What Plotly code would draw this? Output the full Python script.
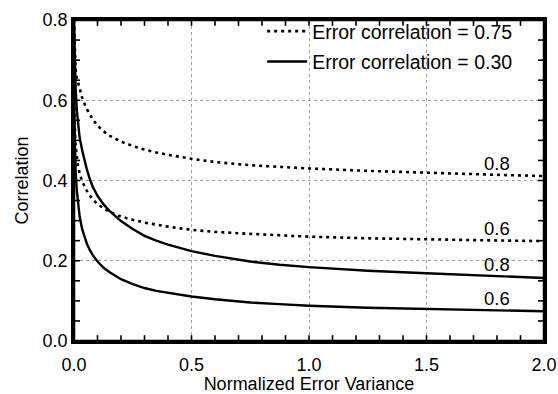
import numpy as np
import plotly.graph_objects as go

# Normalized error variance (x) and resulting correlation for each case
x_hi_075 = [0, 0.003, 0.006, 0.01, 0.02, 0.035, 0.05, 0.065, 0.08, 0.1, 0.125, 0.15, 0.175, 0.2, 0.25, 0.3, 0.35, 0.4,
            0.5, 0.6, 0.75, 0.875, 1.0, 1.25, 1.5, 1.75, 2.0]
y_hi_075 = [0.80, 0.72, 0.685, 0.66, 0.636, 0.606, 0.583, 0.566, 0.552, 0.537, 0.523, 0.512, 0.504, 0.497, 0.486, 0.477,
            0.470, 0.464, 0.454, 0.446, 0.438, 0.434, 0.430, 0.424, 0.419, 0.415, 0.411]

x_lo_075 = [0, 0.003, 0.006, 0.01, 0.017, 0.025, 0.035, 0.05, 0.065, 0.08, 0.1, 0.125, 0.15, 0.175, 0.2, 0.25, 0.3, 0.35,
            0.4, 0.5, 0.6, 0.75, 0.875, 1.0, 1.25, 1.5, 1.75, 2.0]
y_lo_075 = [0.60, 0.53, 0.495, 0.470, 0.437, 0.415, 0.398, 0.379, 0.364, 0.353, 0.341, 0.331, 0.322, 0.316, 0.310, 0.302,
            0.295, 0.290, 0.285, 0.277, 0.272, 0.267, 0.263, 0.260, 0.256, 0.253, 0.251, 0.249]

x_hi_030 = [0, 0.003, 0.007, 0.012, 0.018, 0.024, 0.035, 0.045, 0.055, 0.067, 0.08, 0.1, 0.125, 0.15, 0.175, 0.2, 0.25,
            0.3, 0.35, 0.4, 0.5, 0.6, 0.75, 0.875, 1.0, 1.25, 1.5, 1.75, 2.0]
y_hi_030 = [0.80, 0.70, 0.63, 0.575, 0.535, 0.507, 0.475, 0.450, 0.427, 0.404, 0.384, 0.362, 0.341, 0.325, 0.311, 0.299,
            0.279, 0.262, 0.250, 0.240, 0.224, 0.212, 0.198, 0.190, 0.184, 0.175, 0.169, 0.163, 0.157]

x_lo_030 = [0, 0.003, 0.007, 0.012, 0.017, 0.024, 0.035, 0.045, 0.055, 0.067, 0.08, 0.1, 0.125, 0.15, 0.175, 0.2, 0.25,
            0.3, 0.35, 0.4, 0.5, 0.6, 0.75, 0.875, 1.0, 1.25, 1.5, 1.75, 2.0]
y_lo_030 = [0.60, 0.48, 0.42, 0.375, 0.345, 0.310, 0.278, 0.258, 0.242, 0.227, 0.214, 0.198, 0.183, 0.172, 0.162, 0.154,
            0.142, 0.132, 0.125, 0.120, 0.111, 0.104, 0.096, 0.092, 0.088, 0.083, 0.080, 0.077, 0.074]

# True correlation labels written next to each curve
curve_labels = ["0.8", "0.6", "0.8", "0.6"]
label_x = 1.80

# Axis tick values (major) and minor tick spacing
x_ticks = [0.0, 0.5, 1.0, 1.5, 2.0]
y_ticks = [0.0, 0.2, 0.4, 0.6, 0.8]
x_minor_step = 0.1
y_minor_step = 0.05

FONT = "Liberation Sans, Arial, Helvetica, sans-serif"
W, H = 558, 394
M = dict(l=74, r=14, t=12, b=53)
plot_w = W - M["l"] - M["r"]
plot_h = H - M["t"] - M["b"]
TICK_PX = 6

fig = go.Figure()

curves = [
    (x_hi_075, y_hi_075, "dot", "Error correlation = 0.75", True, "g1"),
    (x_lo_075, y_lo_075, "dot", "Error correlation = 0.75", False, "g1"),
    (x_hi_030, y_hi_030, "solid", "Error correlation = 0.30", True, "g2"),
    (x_lo_030, y_lo_030, "solid", "Error correlation = 0.30", False, "g2"),
]

for xs, ys, dash, name, show, grp in curves:
    fig.add_trace(go.Scatter(
        x=xs, y=ys, mode="lines", name=name, showlegend=show, legendgroup=grp,
        line=dict(color="black", width=2.6 if dash == "dot" else 2.4,
                  dash="3px,4px" if dash == "dot" else "solid"),
    ))

for (xs, ys, *_), txt in zip(curves, curve_labels):
    fig.add_annotation(
        x=label_x, y=float(np.interp(label_x, xs, ys)), text=txt,
        showarrow=False, yanchor="bottom", xanchor="center", yshift=-1,
        font=dict(family=FONT, size=18.5, color="black"),
    )

# Frame around the plotting area
fig.add_shape(type="rect", xref="paper", yref="paper", x0=0, x1=1, y0=0, y1=1,
              line=dict(color="black", width=2.5), layer="above")

# Inward tick marks on all four sides
tick_style = dict(color="black", width=1.6)
x_tick_pos = np.arange(x_ticks[0], x_ticks[-1] + 1e-9, x_minor_step)
y_tick_pos = np.arange(y_ticks[0], y_ticks[-1] + 1e-9, y_minor_step)
fx = TICK_PX / plot_h
fy = TICK_PX / plot_w
for xv in x_tick_pos[1:-1]:
    fig.add_shape(type="line", xref="x", yref="y domain", x0=xv, x1=xv, y0=0, y1=fx, line=tick_style)
    fig.add_shape(type="line", xref="x", yref="y domain", x0=xv, x1=xv, y0=1, y1=1 - fx, line=tick_style)
for yv in y_tick_pos[1:-1]:
    fig.add_shape(type="line", xref="x domain", yref="y", x0=0, x1=fy, y0=yv, y1=yv, line=tick_style)
    fig.add_shape(type="line", xref="x domain", yref="y", x0=1, x1=1 - fy, y0=yv, y1=yv, line=tick_style)

axis_common = dict(
    showline=True, linecolor="black", linewidth=2.5, mirror=True,
    ticks="", zeroline=False, automargin=False,
    showgrid=True, gridcolor="#a0a0a0", gridwidth=1, griddash="dot",
    tickmode="linear", tickformat=".1f",
    tickfont=dict(family=FONT, size=18, color="black"),
)

fig.update_xaxes(
    range=[x_ticks[0], x_ticks[-1]], tick0=x_ticks[0], dtick=x_ticks[1] - x_ticks[0],
    ticklabelstandoff=6,
    title=dict(text="Normalized Error Variance", font=dict(family=FONT, size=18, color="black"), standoff=0),
    **axis_common,
)
fig.update_yaxes(
    range=[y_ticks[0], y_ticks[-1]], tick0=y_ticks[0], dtick=y_ticks[1] - y_ticks[0],
    title=dict(text="Correlation", font=dict(family=FONT, size=18, color="black"), standoff=10),
    **axis_common,
)

fig.update_layout(
    width=W, height=H,
    margin=M,
    paper_bgcolor="white", plot_bgcolor="white",
    showlegend=True,
    legend=dict(
        x=0.945, y=1.025, xanchor="right", yanchor="top",
        bgcolor="rgba(0,0,0,0)", borderwidth=0,
        font=dict(family=FONT, size=19.5, color="black"),
        traceorder="grouped", tracegroupgap=2, itemwidth=40,
    ),
)

fig.write_html("out.html")
